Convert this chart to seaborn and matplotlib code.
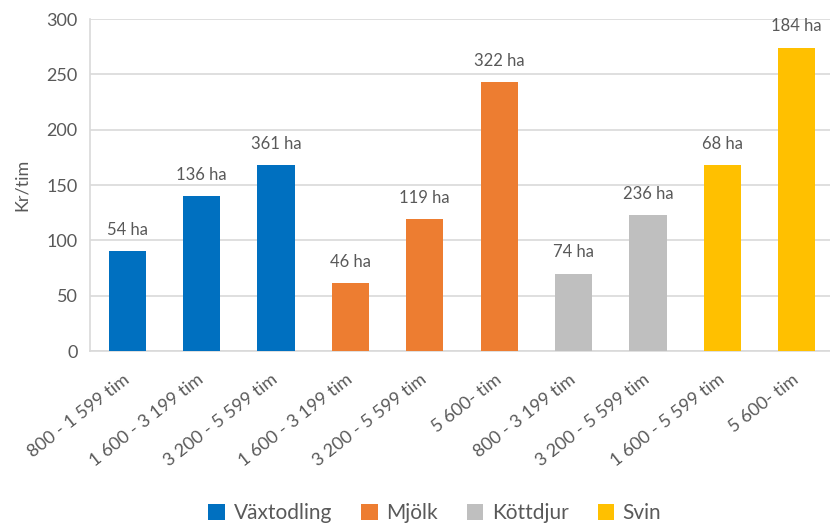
import numpy as np
import pandas as pd
import seaborn as sns
import matplotlib.pyplot as plt
from matplotlib.patches import Patch

# data
categories = ["800 - 1 599 tim", "1 600 - 3 199 tim", "3 200 - 5 599 tim",
              "1 600 - 3 199 tim", "3 200 - 5 599 tim", "5 600- tim",
              "800 - 3 199 tim", "3 200 - 5 599 tim",
              "1 600 - 5 599 tim", "5 600- tim"]
values = [90, 140, 168, 61, 119, 243, 70, 123, 168, 274]
groups = ["Växtodling", "Växtodling", "Växtodling", "Mjölk", "Mjölk", "Mjölk",
          "Köttdjur", "Köttdjur", "Svin", "Svin"]
areas = ["54 ha", "136 ha", "361 ha", "46 ha", "119 ha", "322 ha",
         "74 ha", "236 ha", "68 ha", "184 ha"]

group_names = ["Växtodling", "Mjölk", "Köttdjur", "Svin"]
group_colors = ["#0070C0", "#ED7D31", "#BFBFBF", "#FFC000"]
text_col = "#595959"
grid_col = "#D9D9D9"

sns.set_style("white")
plt.rcParams['font.family'] = ['Lato', 'DejaVu Sans']

df = pd.DataFrame({"pos": np.arange(len(values)), "val": values, "grp": groups})

fig = plt.figure(figsize=(8.3, 5.29), dpi=100)
ax = fig.add_axes([90 / 830, 178 / 529, 744 / 830, 332 / 529])

sns.barplot(data=df, x="pos", y="val", hue="grp", hue_order=group_names,
            palette=group_colors, saturation=1, dodge=False, width=0.5,
            linewidth=0, legend=False, ax=ax, zorder=3)

# labels above the bars
for i, (v, a) in enumerate(zip(values, areas)):
    ax.text(i, v + 12, a, ha="center", va="bottom", fontsize=12, color=text_col)

ax.set_ylim(0, 300)
ax.set_xlim(-0.5, 9.5)
ax.set_yticks(range(0, 301, 50))
ax.yaxis.grid(True, color=grid_col, linewidth=1.2, zorder=0)
for s in ["top", "right"]:
    ax.spines[s].set_visible(False)
for s in ["left", "bottom"]:
    ax.spines[s].set_color(grid_col)
    ax.spines[s].set_linewidth(1.2)
ax.tick_params(axis="y", length=5, color=grid_col, labelsize=13,
               labelcolor=text_col, pad=4)
ax.tick_params(axis="x", length=0, labelsize=13, labelcolor=text_col, pad=19)

ax.set_xticks(range(len(categories)))
ax.set_xticklabels(categories, rotation=38, ha="right", va="center",
                   rotation_mode="anchor")
ax.set_xlabel("")
ax.set_ylabel("Kr/tim", fontsize=13, color=text_col, labelpad=12)

handles = [Patch(facecolor=c, edgecolor="none", label=g)
           for g, c in zip(group_names, group_colors)]
fig.legend(handles=handles, loc="center", bbox_to_anchor=(0.524, 0.03),
           ncol=4, frameon=False, fontsize=15, labelcolor=text_col,
           handlelength=0.8, handleheight=0.8, handletextpad=0.4,
           columnspacing=1.4)

fig.savefig("out.png", dpi=100)
